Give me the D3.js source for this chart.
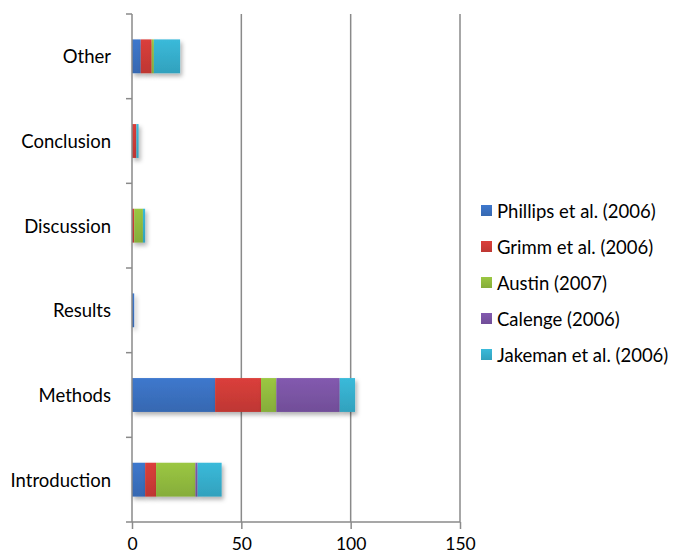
<!DOCTYPE html>
<html>
<head>
<meta charset="utf-8">
<script src="https://cdn.jsdelivr.net/npm/d3@7"></script>
<style>
  html, body { margin: 0; padding: 0; background: #fff; }
  text { font-family: Lato, "Open Sans", sans-serif; fill: #000; }
</style>
</head>
<body>
<svg id="chart" width="674" height="556"></svg>
<script>
// Sections of a paper (bottom to top) and citation counts per source
const sections = ["Introduction", "Methods", "Results", "Discussion", "Conclusion", "Other"];
const sources = ["Phillips et al. (2006)", "Grimm et al. (2006)", "Austin (2007)", "Calenge (2006)", "Jakeman et al. (2006)"];
const phillips = [6, 38, 1, 0, 0, 4];
const grimm    = [5, 21, 0, 1, 2, 5];
const austin   = [18, 7, 0, 4, 0, 1];
const calenge  = [1, 29, 0, 0, 0, 0];
const jakeman  = [11, 7, 0, 1, 1, 12];
const xTicks = [0, 50, 100, 150];
const colors = ["#3b72c2", "#d03c38", "#93bd3f", "#7c55a6", "#37b0cf"];

const seriesValues = [phillips, grimm, austin, calenge, jakeman];
const rows = sections.map((s, i) => {
  const r = { section: s };
  sources.forEach((src, j) => { r[src] = seriesValues[j][i]; });
  return r;
});

const svg = d3.select("#chart");
const margin = { left: 132, top: 14, right: 214, bottom: 34 };
const W = 674, H = 556;
const plotW = W - margin.left - margin.right;
const plotH = H - margin.top - margin.bottom;

const x = d3.scaleLinear().domain([0, 150]).range([margin.left, margin.left + plotW]);
const y = d3.scaleBand().domain(sections.slice().reverse()).range([margin.top, margin.top + plotH])
  .paddingInner(0.6).paddingOuter(0.3);
const band = d3.scaleBand().domain(sections.slice().reverse()).range([margin.top, margin.top + plotH]);

// gradients and shadow
const defs = svg.append("defs");
colors.forEach((c, i) => {
  const g = defs.append("linearGradient").attr("id", "g" + i).attr("x1", 0).attr("y1", 0).attr("x2", 0).attr("y2", 1);
  g.append("stop").attr("offset", "0%").attr("stop-color", d3.color(c).brighter(0.15));
  g.append("stop").attr("offset", "100%").attr("stop-color", d3.color(c).darker(0.25));
});
const f = defs.append("filter").attr("id", "shadow").attr("x", "-10%").attr("y", "-20%").attr("width", "130%").attr("height", "160%");
f.append("feDropShadow").attr("dx", 2).attr("dy", 3).attr("stdDeviation", 2).attr("flood-color", "#000").attr("flood-opacity", 0.3);

// gridlines
svg.append("g").selectAll("line").data(xTicks.slice(1)).join("line")
  .attr("x1", d => x(d)).attr("x2", d => x(d))
  .attr("y1", margin.top).attr("y2", margin.top + plotH)
  .attr("stroke", "#8a8a8a").attr("stroke-width", 1.5);

// stacked bars
const stack = d3.stack().keys(sources)(rows);
const bars = svg.append("g");
stack.forEach((layer, i) => {
  bars.append("g").attr("filter", "url(#shadow)").selectAll("rect").data(layer.filter(d => d[1] > d[0])).join("rect")
    .attr("x", d => x(d[0]))
    .attr("width", d => x(d[1]) - x(d[0]))
    .attr("y", d => y(d.data.section))
    .attr("height", y.bandwidth())
    .attr("fill", `url(#g${i})`);
});

// x axis
const xAxis = svg.append("g").attr("transform", `translate(0,${margin.top + plotH})`)
  .call(d3.axisBottom(x).tickValues(xTicks).tickSize(7).tickSizeOuter(0).tickPadding(9));
xAxis.select(".domain").attr("stroke", "#8a8a8a").attr("stroke-width", 1.5)
  .attr("d", `M${margin.left - 6},0H${margin.left + plotW}`);
xAxis.selectAll(".tick line").attr("stroke", "#8a8a8a").attr("stroke-width", 1.5);
xAxis.selectAll(".tick text").attr("font-size", 17.5).attr("font-family", "Lato, 'Open Sans', sans-serif");

// y axis: ticks at category boundaries
const yg = svg.append("g");
yg.append("line").attr("x1", margin.left).attr("x2", margin.left)
  .attr("y1", margin.top).attr("y2", margin.top + plotH)
  .attr("stroke", "#8a8a8a").attr("stroke-width", 1.5);
const boundaries = sections.map(s => band(s));
yg.selectAll(".yt").data(boundaries).join("line").attr("class", "yt")
  .attr("x1", margin.left - 6).attr("x2", margin.left)
  .attr("y1", d => d).attr("y2", d => d)
  .attr("stroke", "#8a8a8a").attr("stroke-width", 1.5);
yg.selectAll("text").data(sections).join("text")
  .attr("x", margin.left - 21).attr("y", d => band(d) + band.bandwidth() / 2)
  .attr("text-anchor", "end").attr("dominant-baseline", "central")
  .attr("font-size", 18.5).text(d => d);

// legend
const legend = svg.append("g").attr("transform", "translate(481,211)");
sources.forEach((s, i) => {
  const g = legend.append("g").attr("transform", `translate(0,${i * 36})`);
  g.append("rect").attr("x", 0).attr("y", -6).attr("width", 11).attr("height", 11).attr("fill", `url(#g${i})`);
  g.append("text").attr("x", 16).attr("y", 0).attr("dominant-baseline", "central")
    .attr("font-size", 18.5).text(s);
});
</script>
</body>
</html>
